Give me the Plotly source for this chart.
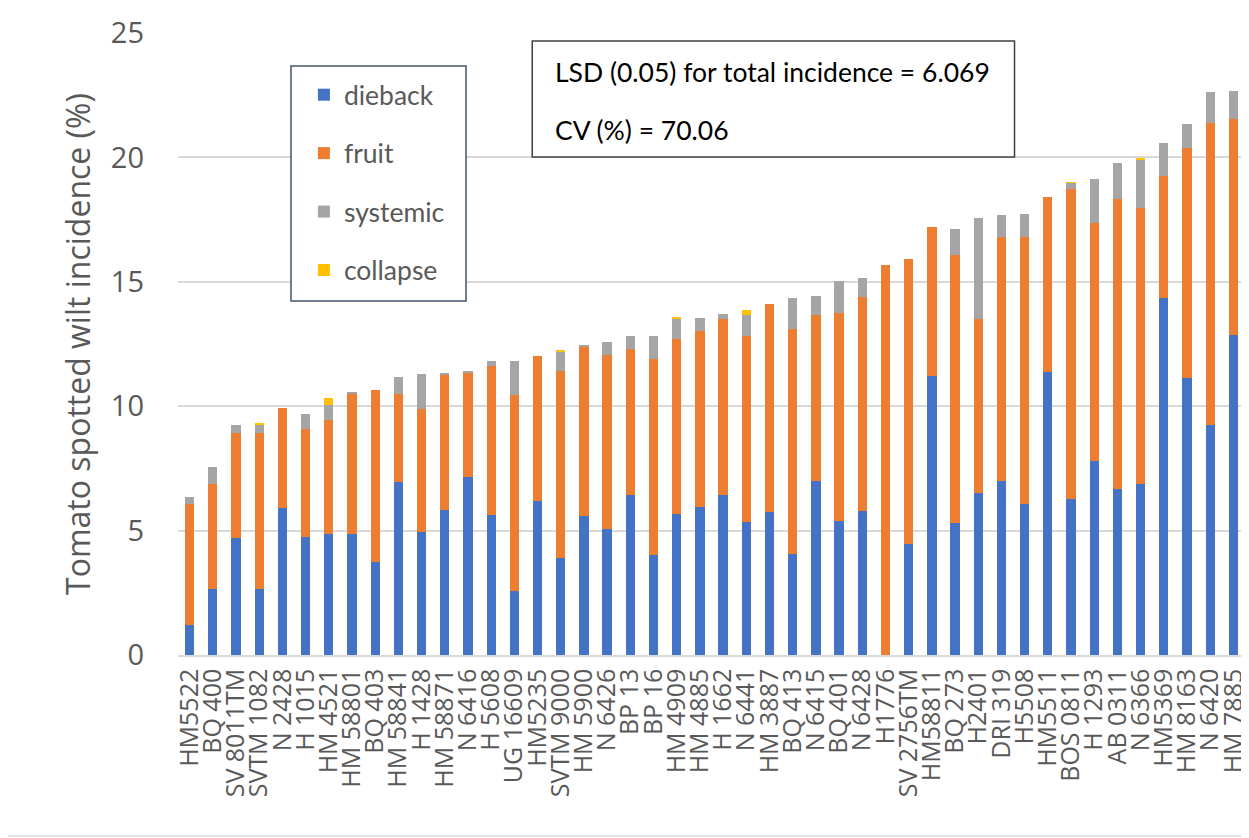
import plotly.graph_objects as go

categories = ["HM5522", "BQ 400", "SV 8011TM", "SVTM 1082", "N 2428", "H 1015", "HM 4521",
              "HM 58801", "BQ 403", "HM 58841", "H 1428", "HM 58871", "N 6416", "H 5608",
              "UG 16609", "HM5235", "SVTM 9000", "HM 5900", "N 6426", "BP 13", "BP 16",
              "HM 4909", "HM 4885", "H 1662", "N 6441", "HM 3887", "BQ 413", "N 6415",
              "BQ 401", "N 6428", "H1776", "SV 2756TM", "HM58811", "BQ 273", "H2401",
              "DRI 319", "H5508", "HM5511", "BOS 0811", "H 1293", "AB 0311", "N 6366",
              "HM5369", "HM 8163", "N 6420", "HM 7885"]

dieback = [1.2, 2.67, 4.72, 2.67, 5.9, 4.76, 4.85, 4.88, 3.73, 6.97, 4.93, 5.81, 7.15, 5.64,
           2.57, 6.2, 3.91, 5.59, 5.08, 6.43, 4.03, 5.68, 5.96, 6.44, 5.36, 5.74, 4.07, 6.98,
           5.4, 5.78, 0.0, 4.47, 11.23, 5.32, 6.5, 6.98, 6.08, 11.39, 6.26, 7.79, 6.69, 6.89,
           14.33, 11.13, 9.25, 12.87]

fruit = [4.85, 4.19, 4.19, 6.24, 4.02, 4.31, 4.58, 5.64, 6.92, 3.51, 4.94, 5.46, 4.2, 5.97,
         7.89, 5.82, 7.49, 6.8, 6.96, 5.86, 7.88, 7.04, 7.07, 7.05, 7.47, 8.37, 9.02, 6.7,
         8.33, 8.6, 15.66, 11.45, 5.97, 10.77, 7.02, 9.81, 10.73, 7.03, 12.48, 9.58, 11.62,
         11.07, 4.92, 9.24, 12.12, 8.69]

systemic = [0.3, 0.7, 0.32, 0.35, 0.0, 0.62, 0.63, 0.05, 0.0, 0.69, 1.42, 0.05, 0.05, 0.2,
            1.35, 0.0, 0.8, 0.06, 0.54, 0.52, 0.9, 0.8, 0.53, 0.2, 0.82, 0.0, 1.26, 0.74,
            1.3, 0.79, 0.0, 0.0, 0.0, 1.03, 4.03, 0.9, 0.92, 0.0, 0.24, 1.77, 1.47, 1.96,
            1.34, 0.97, 1.26, 1.1]

collapse = [0.0, 0.0, 0.0, 0.05, 0.0, 0.0, 0.28, 0.0, 0.0, 0.0, 0.0, 0.0, 0.0, 0.0,
            0.0, 0.0, 0.03, 0.0, 0.0, 0.0, 0.0, 0.04, 0.0, 0.0, 0.22, 0.0, 0.0, 0.0,
            0.0, 0.0, 0.0, 0.0, 0.0, 0.0, 0.0, 0.0, 0.0, 0.0, 0.02, 0.0, 0.0, 0.02,
            0.0, 0.0, 0.0, 0.0]

y_ticks = [0, 5, 10, 15, 20, 25]

series = [("dieback", dieback, "#4472C4"),
          ("fruit", fruit, "#ED7D31"),
          ("systemic", systemic, "#A5A5A5"),
          ("collapse", collapse, "#FFC000")]

fig = go.Figure()
for name, vals, color in series:
    fig.add_trace(go.Bar(
        x=categories, y=vals, name=name, legendgroup=name,
        marker=dict(color=color, line=dict(width=0)),
    ))

text_col = "#595959"
# page body has an 8px default margin, so the figure is sized/margined to compensate
fig.update_layout(
    width=1241, height=830,
    barmode="stack", bargap=0.6,
    plot_bgcolor="white", paper_bgcolor="white",
    margin=dict(l=170, r=4, t=25, b=183, autoexpand=False),
    font=dict(family="Open Sans", color=text_col),
    showlegend=True,
    legend=dict(
        x=0.118, y=0.939, xanchor="left", yanchor="top",
        traceorder="grouped", tracegroupgap=21,
        font=dict(family="Lato", size=26.5, color=text_col),
        borderwidth=0, bgcolor="rgba(0,0,0,0)",
        itemwidth=30,
    ),
    xaxis=dict(
        tickmode="array", tickvals=categories, ticktext=categories,
        tickangle=-90, tickfont=dict(size=25, color=text_col, family="Open Sans"),
        showgrid=False, showline=True, linecolor="#D9D9D9", linewidth=1.5,
        ticks="", ticklabelstandoff=2, automargin=False,
    ),
    yaxis=dict(
        range=[0, 25], tickvals=y_ticks,
        tickfont=dict(size=29, color=text_col, family="Open Sans"),
        gridcolor="#D9D9D9", gridwidth=1.5, zeroline=False,
        ticks="", ticklabelstandoff=33, automargin=False,
        title=dict(text="Tomato spotted wilt incidence (%)",
                   font=dict(size=32, color=text_col, family="Open Sans"), standoff=10),
    ),
    shapes=[
        # statistics box
        dict(type="rect", xref="paper", yref="paper", x0=0.332, x1=0.784, y0=0.8006, y1=0.987,
             line=dict(color="#404040", width=1.5), fillcolor="white", layer="above"),
        # legend box
        dict(type="rect", xref="paper", yref="paper",
             x0=(291 - 178) / 1067, x1=(466 - 178) / 1067,
             y0=(655 - 301) / 622, y1=(655 - 66) / 622,
             line=dict(color="#44546A", width=1.5), fillcolor="white", layer="above"),
        # outer chart border (right and bottom edges)
        dict(type="line", xref="paper", yref="paper",
             x0=(1247 - 178) / 1067, x1=(1247 - 178) / 1067,
             y0=(655 - 836) / 622, y1=(655 - 8) / 622,
             line=dict(color="#D9D9D9", width=1.5)),
        dict(type="line", xref="paper", yref="paper",
             x0=(8 - 178) / 1067, x1=(1247 - 178) / 1067,
             y0=(655 - 836) / 622, y1=(655 - 836) / 622,
             line=dict(color="#D9D9D9", width=1.5)),
    ],
    annotations=[
        dict(text="LSD (0.05) for total incidence = 6.069", xref="paper", yref="paper",
             x=0.3515, y=0.937, xanchor="left", yanchor="middle", showarrow=False,
             font=dict(family="Lato", size=26.5, color="#000000")),
        dict(text="CV (%) = 70.06", xref="paper", yref="paper",
             x=0.3515, y=0.844, xanchor="left", yanchor="middle", showarrow=False,
             font=dict(family="Lato", size=26.5, color="#000000")),
    ],
)

fig.write_html("out.html")
